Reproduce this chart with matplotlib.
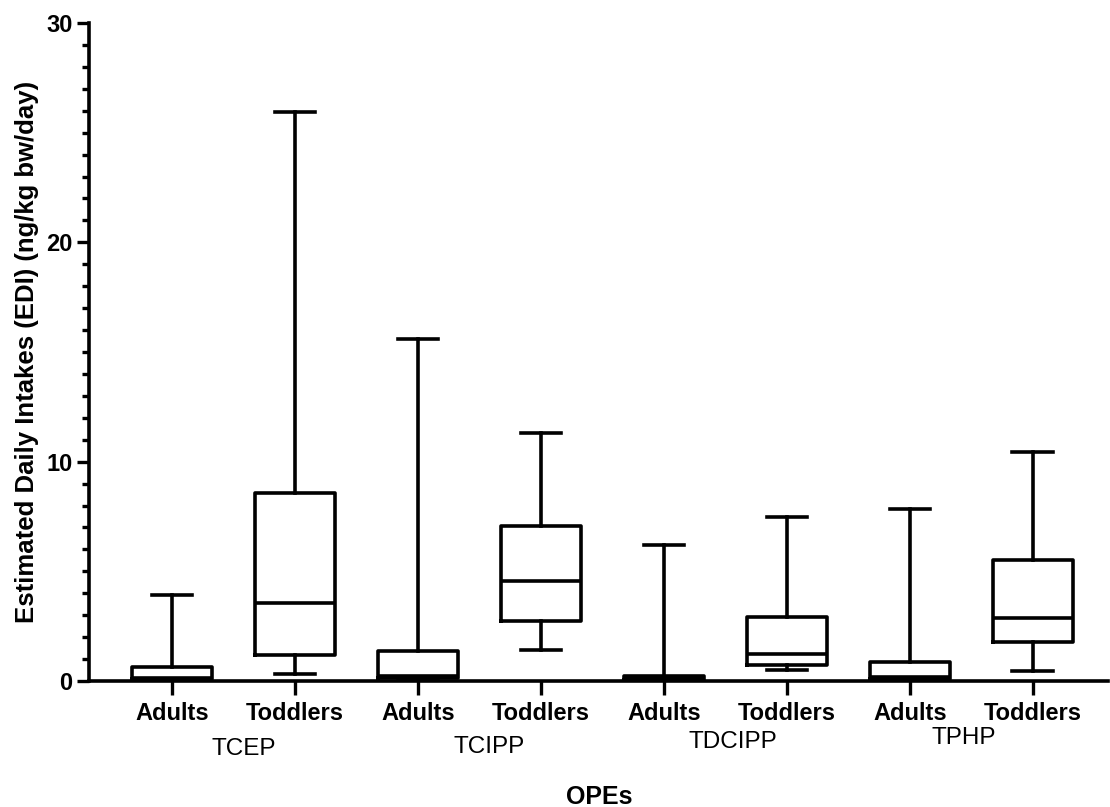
import numpy as np
import matplotlib.pyplot as plt
import matplotlib.transforms as mtransforms
from matplotlib.ticker import MultipleLocator

plt.rcParams['font.family'] = ['Liberation Sans', 'DejaVu Sans']

# EDI (ng/kg bw/day) summary per compound and population
compuestos = ['TCEP', 'TCIPP', 'TDCIPP', 'TPHP']
grupos = ['Adults', 'Toddlers']
minimos = [0.02, 0.32, 0.02, 1.41, 0.01, 0.50, 0.02, 0.46]
q1 = [0.08, 1.19, 0.12, 2.74, 0.05, 0.73, 0.10, 1.78]
medianas = [0.15, 3.56, 0.25, 4.56, 0.12, 1.23, 0.20, 2.87]
q3 = [0.65, 8.57, 1.35, 7.07, 0.25, 2.92, 0.87, 5.52]
maximos = [3.93, 25.95, 15.6, 11.3, 6.2, 7.48, 7.84, 10.44]

etiquetas = grupos * len(compuestos)
stats = []
for lo, a, m, b, hi, lab in zip(minimos, q1, medianas, q3, maximos, etiquetas):
    stats.append({'whislo': lo, 'q1': a, 'med': m, 'q3': b, 'whishi': hi,
                  'fliers': [], 'label': lab})

fig = plt.figure(figsize=(11.1, 8.07), dpi=100)
ax = fig.add_axes([0.0802, 0.1561, 0.9178, 0.8154])

lw = 2.6
pos = np.arange(len(stats))
ax.bxp(stats, positions=pos, widths=0.65, capwidths=0.33, showfliers=False,
       boxprops=dict(color='black', linewidth=lw),
       medianprops=dict(color='black', linewidth=lw),
       whiskerprops=dict(color='black', linewidth=lw),
       capprops=dict(color='black', linewidth=lw))

ax.set_xlim(-0.675, 7.61)
ax.set_ylim(0, 30)
ax.yaxis.set_major_locator(MultipleLocator(10))
ax.yaxis.set_minor_locator(MultipleLocator(1))

for lado in ['top', 'right']:
    ax.spines[lado].set_visible(False)
for lado in ['left', 'bottom']:
    ax.spines[lado].set_linewidth(2.6)

ax.tick_params(axis='y', which='major', length=9, width=2.4, labelsize=17, pad=3)
ax.tick_params(axis='y', which='minor', length=5, width=2.4)
ax.tick_params(axis='x', which='major', length=10, width=2.4, labelsize=17, pad=5)
for t in ax.get_xticklabels() + ax.get_yticklabels():
    t.set_fontweight('bold')

ax.set_ylabel('Estimated Daily Intakes (EDI) (ng/kg bw/day)', fontsize=18.5,
              fontweight='bold', va='center')
ax.yaxis.set_label_coords(-0.0605, 0.5)

# x axis title placed in figure coordinates
fig.text(0.5396, 1 - 797 / 807, 'OPEs', ha='center', va='center',
         fontsize=18, fontweight='bold')

# compound names under each pair of boxes
trans = mtransforms.blended_transform_factory(ax.transData, fig.transFigure)
desfase_x = [0.08, 0.08, 0.06, -0.06]
altura = [0.072, 0.074, 0.080, 0.085]
for i, nombre in enumerate(compuestos):
    centro = 2 * i + 0.5 + desfase_x[i]
    ax.text(centro, altura[i], nombre, transform=trans, ha='center', va='center',
            fontsize=17.5)

plt.savefig('out.png', dpi=100)
